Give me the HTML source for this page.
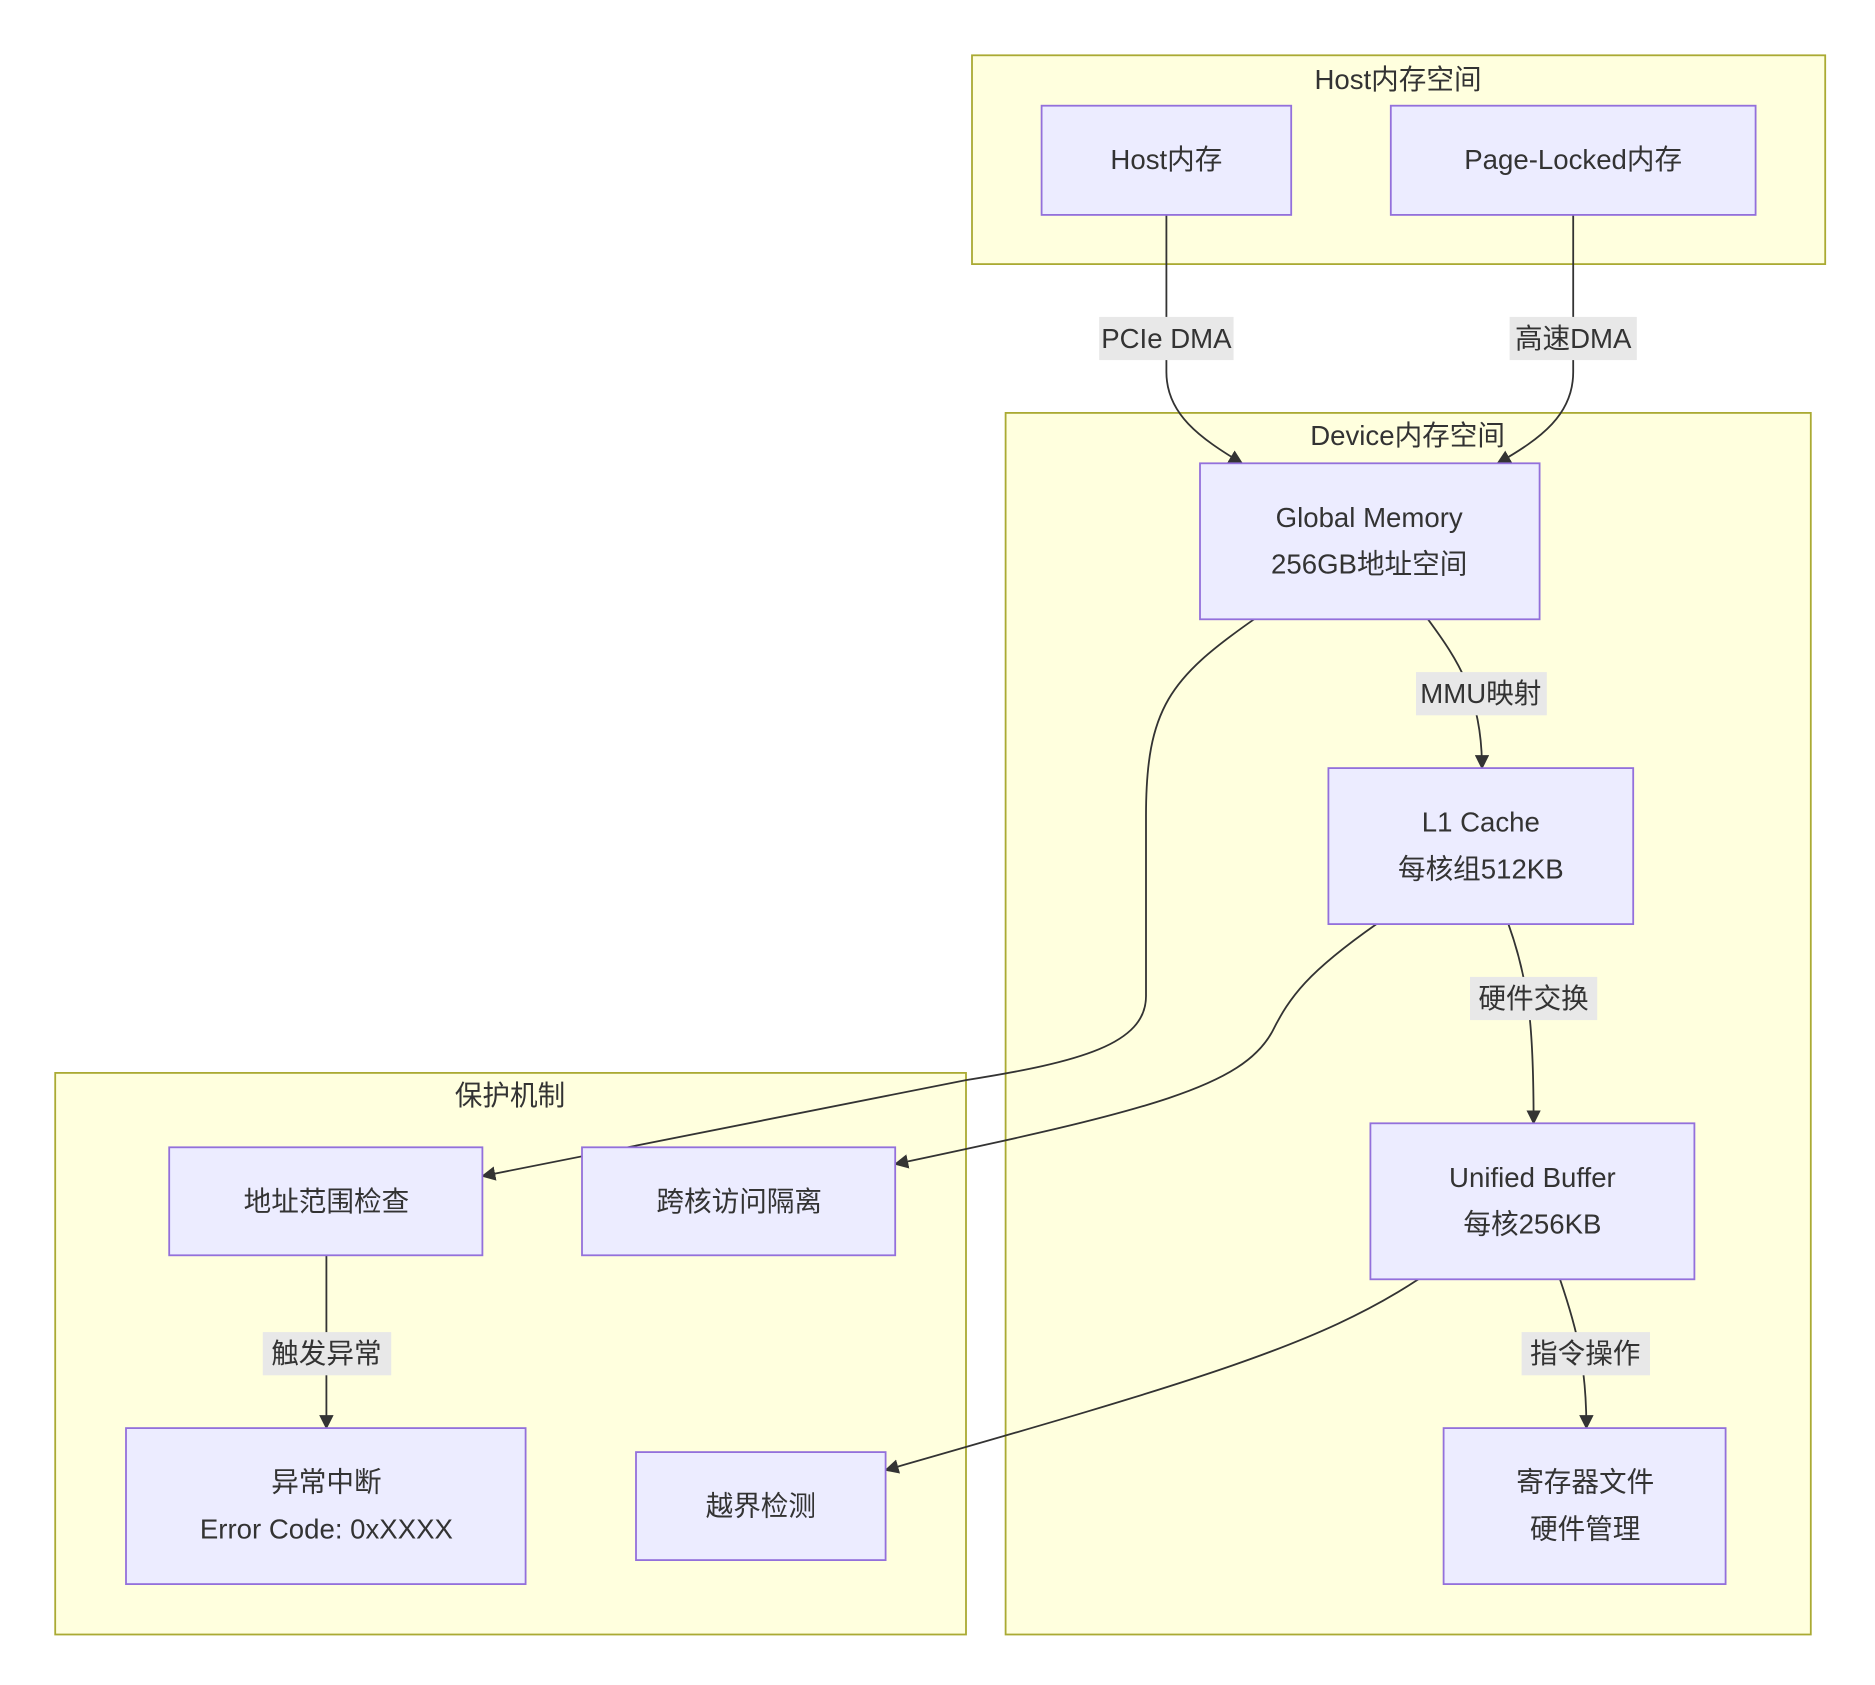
<!DOCTYPE html>
<html><head><meta charset="utf-8"><style>
html,body{margin:0;padding:0;background:#fff;}
svg{display:block;}
text{font-family:"Liberation Sans","Noto Sans CJK SC",sans-serif;fill:#333;font-size:23px;text-anchor:middle;dominant-baseline:central;}
.c{fill:#ffffde;stroke:#aaaa33;stroke-width:1.5;}
.n{fill:#ececff;stroke:#9370db;stroke-width:1.5;}
.e{fill:none;stroke:#333;stroke-width:1.5;}
.l{fill:#e8e8e8;}
</style></head><body>
<svg width="1875" height="1685" viewBox="0 0 1562.5 1404" xmlns="http://www.w3.org/2000/svg">
<defs><marker id="a" viewBox="0 0 10 10" refX="9" refY="5" markerWidth="8" markerHeight="8" orient="auto"><path d="M0,0L10,5L0,10z" fill="#333"/></marker></defs>
<rect class="c" x="810" y="46" width="711" height="174"/>
<text x="1165" y="66">Host内存空间</text>
<rect class="c" x="838" y="344" width="671" height="1018"/>
<text x="1173" y="363">Device内存空间</text>
<rect class="c" x="46" y="894" width="759" height="468"/>
<text x="425" y="913">保护机制</text>

<path class="e" d="M972,179 L972,310 C972,345 1000,365 1035,386" marker-end="url(#a)"/>
<path class="e" d="M1311,179 L1311,310 C1311,345 1285,365 1248,386" marker-end="url(#a)"/>
<path class="e" d="M1190,516 C1215,550 1235,580 1235,640" marker-end="url(#a)"/>
<path class="e" d="M1045,516 C975,565 955,590 955,680 L955,830 C955,870 900,885 805,900 L402,980" marker-end="url(#a)"/>
<path class="e" d="M1147,770 C1090,810 1075,830 1060,860 C1035,905 960,925 746,970" marker-end="url(#a)"/>
<path class="e" d="M1257,770 C1275,820 1278,860 1278,936" marker-end="url(#a)"/>
<path class="e" d="M1182,1066 C1100,1120 1000,1150 738,1225" marker-end="url(#a)"/>
<path class="e" d="M1300,1066 C1315,1110 1322,1140 1322,1190" marker-end="url(#a)"/>
<path class="e" d="M272,1046 L272,1190" marker-end="url(#a)"/>

<rect class="l" x="916" y="264" width="112" height="36"/><text x="972" y="282">PCIe DMA</text>
<rect class="l" x="1258" y="264" width="106" height="36"/><text x="1311" y="282">高速DMA</text>
<rect class="l" x="1180" y="560" width="109" height="36"/><text x="1234" y="578">MMU映射</text>
<rect class="l" x="1225" y="814" width="106" height="36"/><text x="1278" y="832">硬件交换</text>
<rect class="l" x="1268" y="1110" width="107" height="36"/><text x="1321" y="1128">指令操作</text>
<rect class="l" x="219" y="1110" width="107" height="36"/><text x="272" y="1128">触发异常</text>

<rect class="n" x="868" y="88" width="208" height="91"/><text x="972" y="133">Host内存</text>
<rect class="n" x="1159" y="88" width="304" height="91"/><text x="1311" y="133">Page-Locked内存</text>
<rect class="n" x="1000" y="386" width="283" height="130"/><text x="1141" y="431">Global Memory</text><text x="1141" y="470">256GB地址空间</text>
<rect class="n" x="1107" y="640" width="254" height="130"/><text x="1234" y="685">L1 Cache</text><text x="1234" y="724">每核组512KB</text>
<rect class="n" x="1142" y="936" width="270" height="130"/><text x="1277" y="981">Unified Buffer</text><text x="1277" y="1020">每核256KB</text>
<rect class="n" x="1203" y="1190" width="235" height="130"/><text x="1321" y="1235">寄存器文件</text><text x="1321" y="1274">硬件管理</text>
<rect class="n" x="141" y="956" width="261" height="90"/><text x="272" y="1001">地址范围检查</text>
<rect class="n" x="485" y="956" width="261" height="90"/><text x="616" y="1001">跨核访问隔离</text>
<rect class="n" x="105" y="1190" width="333" height="130"/><text x="272" y="1235">异常中断</text><text x="272" y="1274">Error Code: 0xXXXX</text>
<rect class="n" x="530" y="1210" width="208" height="90"/><text x="634" y="1255">越界检测</text>
</svg>
</body></html>
